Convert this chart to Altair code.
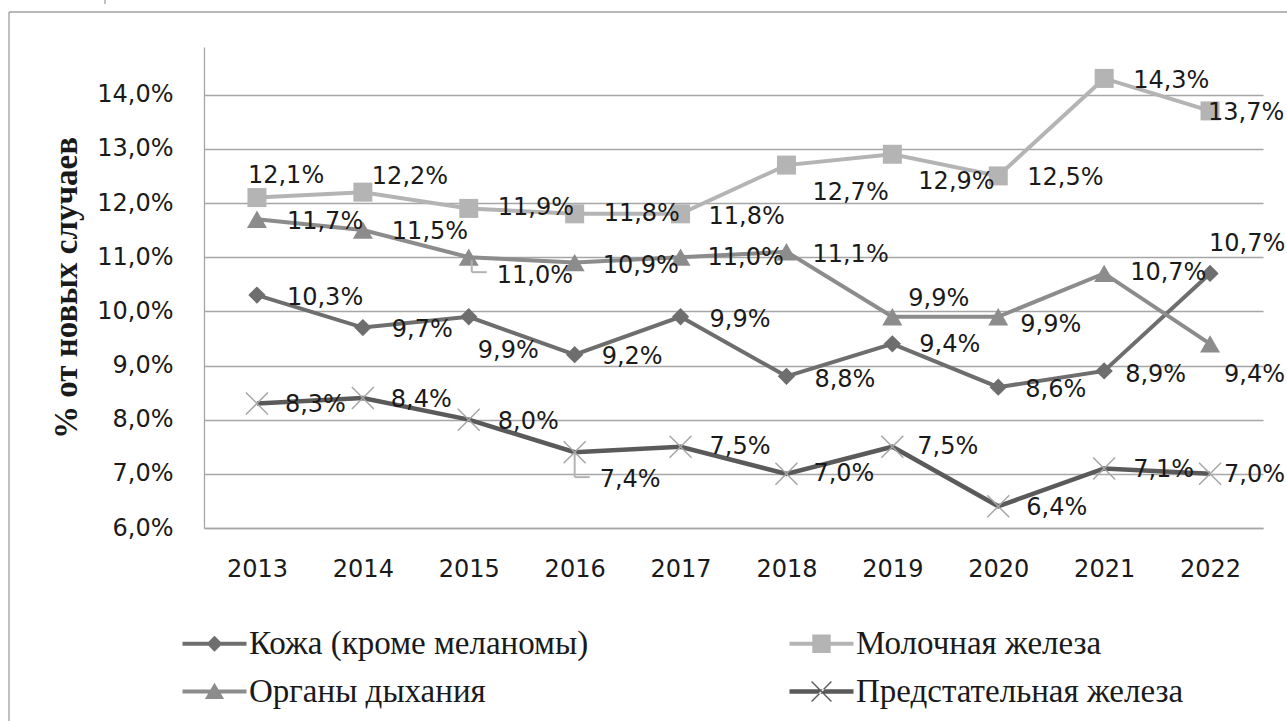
import altair as alt
import pandas as pd

years = [2013, 2014, 2015, 2016, 2017, 2018, 2019, 2020, 2021, 2022]
series_names = ["Кожа (кроме меланомы)", "Молочная железа", "Органы дыхания", "Предстательная железа"]

skin = [10.3, 9.7, 9.9, 9.2, 9.9, 8.8, 9.4, 8.6, 8.9, 10.7]
breast = [12.1, 12.2, 11.9, 11.8, 11.8, 12.7, 12.9, 12.5, 14.3, 13.7]
resp = [11.7, 11.5, 11.0, 10.9, 11.0, 11.1, 9.9, 9.9, 10.7, 9.4]
prostate = [8.3, 8.4, 8.0, 7.4, 7.5, 7.0, 7.5, 6.4, 7.1, 7.0]

y_ticks = [6, 7, 8, 9, 10, 11, 12, 13, 14]

# data-label nudges (pixels, relative to the point)
skin_dx = [30, 29, 9, 27, 29, 28, 27, 27, 21, -1]
skin_dy = [3, 2, 34, 2, 3, 4, 1, 3, 4, -29]
breast_dx = [-9, 9, 29, 29, 28, 26, 26, 29, 29, -2]
breast_dy = [-22, -15, 0, 0, 3, 28, 28, 2, 3, 2]
resp_dx = [30, 29, 28, 28, 27, 26, 16, 22, 26, 14]
resp_dy = [3, 2, 19, 3, 1, 3, -18, 8, 0, 31]
prostate_dx = [28, 28, 29, 25, 29, 27, 25, 28, 29, 14]
prostate_dy = [2, 2, 2, 28, 0, 0, 0, 2, 2, 1]

line_colors = ["#6e6e6e", "#b4b4b4", "#8c8c8c", "#5a5a5a"]
marker_colors = ["#6e6e6e", "#b4b4b4", "#8c8c8c", "#a6a6a6"]

X_DOMAIN = [2012.5, 2022.5]
Y_DOMAIN = [6, 14.88]
W, H = 1059, 481

rows = []
for name, vals, dxs, dys in zip(
    series_names,
    [skin, breast, resp, prostate],
    [skin_dx, breast_dx, resp_dx, prostate_dx],
    [skin_dy, breast_dy, resp_dy, prostate_dy],
):
    for yr, v, dx, dy in zip(years, vals, dxs, dys):
        rows.append(dict(series=name, year=yr, value=v,
                         label=f"{v:.1f}%".replace(".", ","), dx=dx, dy=dy))
df = pd.DataFrame(rows)

GRID = "#a6a6a6"
TXT = "#1a1a1a"

x_axis = alt.Axis(values=years, format="d", grid=False, ticks=False, labelPadding=29,
                  labelFont="DejaVu Sans", labelFontSize=24, labelColor=TXT,
                  domainColor=GRID, domainWidth=1.3, title=None)
y_axis = alt.Axis(values=y_ticks, grid=True, gridColor=GRID, gridWidth=1.3, ticks=False,
                  labelPadding=31, labelFont="DejaVu Sans", labelFontSize=24, labelColor=TXT,
                  labelExpr="replace(format(datum.value, '.1f'), '.', ',') + '%'",
                  domainColor=GRID, domainWidth=1.3,
                  title="% от новых случаев", titleFont="Liberation Serif", titleFontSize=33,
                  titleFontWeight="bold", titleColor=TXT, titlePadding=13)


def xe(field):
    return alt.X(field, scale=alt.Scale(domain=X_DOMAIN, nice=False, zero=False), axis=x_axis)


def ye(field):
    return alt.Y(field, scale=alt.Scale(domain=Y_DOMAIN, nice=False, zero=False), axis=y_axis)


base = alt.Chart(df).encode(x=xe("year:Q"), y=ye("value:Q"))

layers = []
shapes = ["diamond", "square", "triangle-up", "M-1,-1L1,1M-1,1L1,-1"]
sizes = [300, 361, 400, 484]
widths = [4, 4, 4, 4.5]
for i, name in enumerate(series_names):
    sub = base.transform_filter(alt.datum.series == name)
    layers.append(sub.mark_line(color=line_colors[i], strokeWidth=widths[i]))
    if i < 3:
        layers.append(sub.mark_point(shape=shapes[i], filled=True, size=sizes[i],
                                     color=marker_colors[i], opacity=1))
    else:
        layers.append(sub.mark_point(shape=shapes[i], filled=False, size=sizes[i],
                                     color=marker_colors[i], strokeWidth=1.5, opacity=1))

# leader lines for two moved labels
lead_resp = base.transform_filter((alt.datum.series == series_names[2]) & (alt.datum.year == 2015))
layers.append(lead_resp.mark_rule(color="#b4b4b4", strokeWidth=2, xOffset=3, x2Offset=3,
                                  yOffset=3, y2Offset=15).encode(y2="value:Q"))
layers.append(lead_resp.mark_rule(color="#b4b4b4", strokeWidth=2, xOffset=3, x2Offset=18,
                                  yOffset=15, y2Offset=15).encode(x2="year:Q", y2="value:Q"))
lead_pr = base.transform_filter((alt.datum.series == series_names[3]) & (alt.datum.year == 2016))
layers.append(lead_pr.mark_rule(color="#b4b4b4", strokeWidth=2, xOffset=0, x2Offset=0,
                                yOffset=1, y2Offset=25).encode(y2="value:Q"))
layers.append(lead_pr.mark_rule(color="#b4b4b4", strokeWidth=2, xOffset=0, x2Offset=15,
                                yOffset=25, y2Offset=25).encode(x2="year:Q", y2="value:Q"))

# labels: pixel nudges converted through the scale ratios
px_per_x = W / (X_DOMAIN[1] - X_DOMAIN[0])
px_per_y = H / (Y_DOMAIN[1] - Y_DOMAIN[0])
labels = alt.Chart(df).transform_calculate(
    lx=f"datum.year + datum.dx / {px_per_x}",
    ly=f"datum.value - datum.dy / {px_per_y}",
).mark_text(align="left", baseline="middle", font="DejaVu Sans",
            fontSize=24, color=TXT).encode(
    x=xe("lx:Q"), y=ye("ly:Q"), text="label:N",
)
layers.append(labels)

legend_order = [series_names[0], series_names[2], series_names[1], series_names[3]]
legend_colors = [line_colors[0], line_colors[2], line_colors[1], line_colors[3]]
legend_paths = [
    "M-4,-0.25H4V0.25H-4Z M0,-1L1,0L0,1L-1,0Z",
    "M-4,-0.25H4V0.25H-4Z M0,-1.1L1.2,0.95H-1.2Z",
    "M-4,-0.25H4V0.25H-4Z M-1.15,-1.15H1.15V1.15H-1.15Z",
    "M-4,-0.28H4V0.28H-4Z M-1.3,-1.18L-1.18,-1.3L1.3,1.18L1.18,1.3Z M1.3,-1.18L1.18,-1.3L-1.3,1.18L-1.18,1.3Z",
]
leg = alt.Legend(title=None, orient="none", legendX=-6, legendY=580, columns=2,
                 columnPadding=200, rowPadding=14, labelFont="Liberation Serif",
                 labelFontSize=33, labelColor=TXT, labelLimit=1000, labelOffset=18,
                 symbolSize=256, symbolStrokeWidth=0, symbolOpacity=1, padding=0)
legend_layer = base.mark_point(filled=True, opacity=0).encode(
    color=alt.Color("series:N", scale=alt.Scale(domain=legend_order, range=legend_colors), legend=leg),
    shape=alt.Shape("series:N", scale=alt.Scale(domain=legend_order, range=legend_paths), legend=leg),
)
layers.append(legend_layer)

frame_df = pd.DataFrame({"a": [0]})
frame = alt.Chart(frame_df)
layers.append(frame.mark_rule(color="#a0a0a0", strokeWidth=1.3).encode(
    x=alt.value(-195), x2=alt.value(1100), y=alt.value(-35)))
layers.append(frame.mark_rule(color="#a0a0a0", strokeWidth=1.3).encode(
    x=alt.value(-195), y=alt.value(-35), y2=alt.value(700)))
layers.append(frame.mark_rule(color="#a0a0a0", strokeWidth=1.3).encode(
    x=alt.value(-99), y=alt.value(-47), y2=alt.value(-43)))

chart = alt.layer(*layers).properties(
    width=W, height=H,
    autosize=alt.AutoSizeParams(type="none"),
    padding={"left": 204, "top": 47, "right": 24, "bottom": 193},
    background="white",
).configure_view(stroke=None)

chart.save("out.html", embed_options={"renderer": "svg", "actions": False})
